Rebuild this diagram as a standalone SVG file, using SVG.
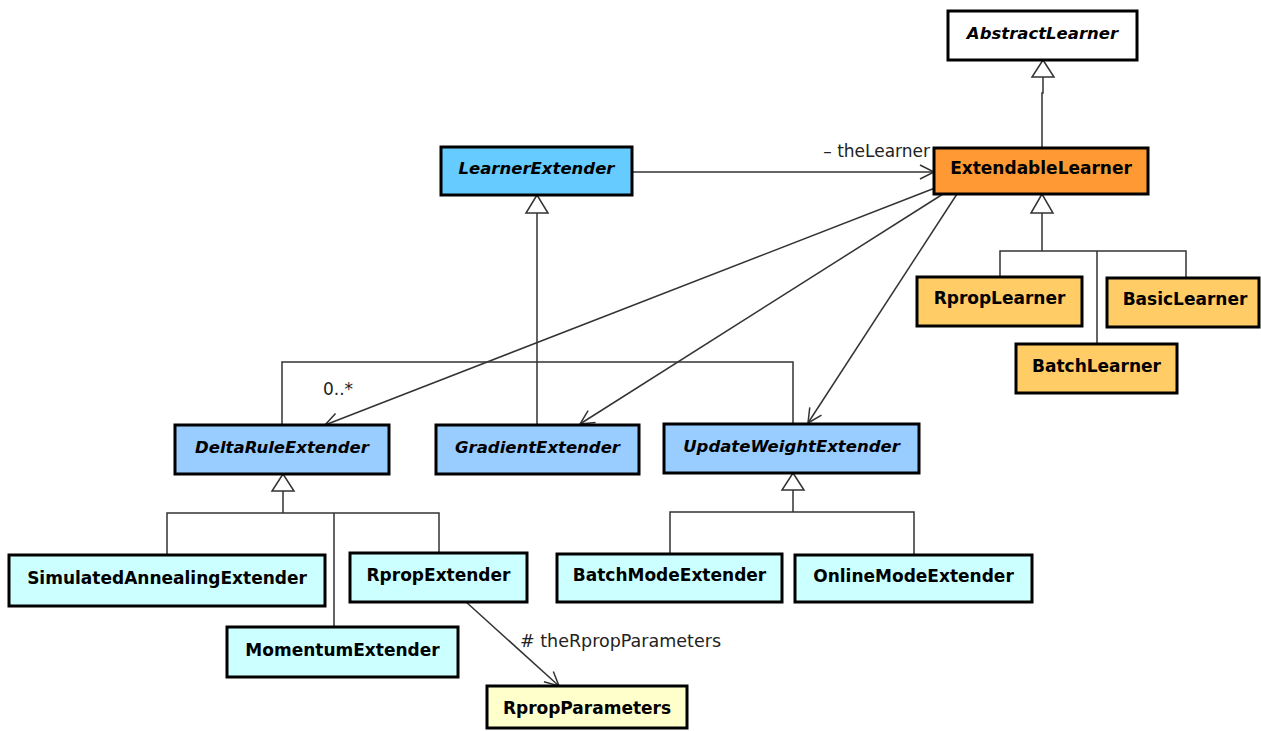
<svg xmlns="http://www.w3.org/2000/svg" width="1261" height="731" viewBox="0 0 1261 731">
<style>
.box{stroke:#000;stroke-width:3}
.t{font-family:"DejaVu Sans",sans-serif;font-size:17px;font-weight:bold;text-anchor:middle;fill:#000}
.ti{font-family:"DejaVu Sans",sans-serif;font-size:16.5px;font-weight:bold;font-style:italic;text-anchor:middle;fill:#000}
.lbl{font-family:"DejaVu Sans",sans-serif;font-size:17px;fill:#222}
.ln{fill:none;stroke:#333;stroke-width:1.5}
.tri{fill:#fff;stroke:#333;stroke-width:1.5}
.assoc{fill:none;stroke:#333;stroke-width:1.5;marker-end:url(#open)}
</style>
<defs>
<marker id="open" markerUnits="userSpaceOnUse" markerWidth="20" markerHeight="20" viewBox="-16 -10 18 20" refX="0" refY="0" orient="auto">
<path d="M-14,-7 L0,0 L-14,7" fill="none" stroke="#333" stroke-width="1.5"/>
</marker>
</defs>
<g id="connectors">
<path class="ln" d="M1043,77 V93 H1042 V148"/>
<polygon class="tri" points="1043,60 1032,77 1054,77"/>
<path class="ln" d="M1042,213 V251 M1000,277 V251 H1186 V278 M1097,251 V344"/>
<polygon class="tri" points="1042,194 1031,213 1053,213"/>
<path class="ln" d="M537,213 V425 M282,425 V362 H793 V424"/>
<polygon class="tri" points="537,195 526,213 548,213"/>
<path class="ln" d="M283,491 V513 M167,555 V513 H439 V553 M334,513 V627"/>
<polygon class="tri" points="283,474 272,491 294,491"/>
<path class="ln" d="M793,490 V512 M670,554 V512 H914 V555"/>
<polygon class="tri" points="793,473 782,490 804,490"/>
<path class="assoc" d="M632,172 L934,172"/>
<path class="assoc" d="M935,188 L325,425"/>
<path class="assoc" d="M943,194 L580,424"/>
<path class="assoc" d="M957,194 L808,423"/>
<path class="assoc" d="M465,601 L559,686"/>
<text class="lbl" x="930" y="157" text-anchor="end">– theLearner</text>
<text class="lbl" x="323" y="395">0..*</text>
<text class="lbl" x="520" y="647" style="font-size:17.5px">#  theRpropParameters</text>
</g>
<g id="AbstractLearner"><rect class="box" x="948" y="11" width="189" height="49" fill="#ffffff"/><text class="ti" x="1042.5" y="39">AbstractLearner</text></g>
<g id="ExtendableLearner"><rect class="box" x="934" y="148" width="214" height="46" fill="#ff9933"/><text class="t" x="1041" y="174">ExtendableLearner</text></g>
<g id="LearnerExtender"><rect class="box" x="441" y="147" width="191" height="48" fill="#66ccff"/><text class="ti" x="536.5" y="174">LearnerExtender</text></g>
<g id="RpropLearner"><rect class="box" x="917" y="277" width="165" height="49" fill="#ffcc66"/><text class="t" x="999.5" y="304">RpropLearner</text></g>
<g id="BasicLearner"><rect class="box" x="1107" y="278" width="152" height="49" fill="#ffcc66"/><text class="t" x="1185" y="305">BasicLearner</text></g>
<g id="BatchLearner"><rect class="box" x="1016" y="344" width="161" height="49" fill="#ffcc66"/><text class="t" x="1096.5" y="372">BatchLearner</text></g>
<g id="DeltaRuleExtender"><rect class="box" x="175" y="425" width="214" height="49" fill="#99ccff"/><text class="ti" x="282" y="453">DeltaRuleExtender</text></g>
<g id="GradientExtender"><rect class="box" x="436" y="425" width="203" height="49" fill="#99ccff"/><text class="ti" x="537.5" y="453">GradientExtender</text></g>
<g id="UpdateWeightExtender"><rect class="box" x="664" y="424" width="255" height="49" fill="#99ccff"/><text class="ti" x="791.5" y="452">UpdateWeightExtender</text></g>
<g id="SimulatedAnnealingExtender"><rect class="box" x="9" y="555" width="316" height="51" fill="#ccffff"/><text class="t" x="167" y="584">SimulatedAnnealingExtender</text></g>
<g id="RpropExtender"><rect class="box" x="350" y="553" width="177" height="49" fill="#ccffff"/><text class="t" x="438.5" y="581">RpropExtender</text></g>
<g id="MomentumExtender"><rect class="box" x="227" y="627" width="231" height="50" fill="#ccffff"/><text class="t" x="342.5" y="656">MomentumExtender</text></g>
<g id="BatchModeExtender"><rect class="box" x="557" y="554" width="225" height="48" fill="#ccffff"/><text class="t" x="669.5" y="581">BatchModeExtender</text></g>
<g id="OnlineModeExtender"><rect class="box" x="795" y="555" width="237" height="47" fill="#ccffff"/><text class="t" x="913.5" y="582">OnlineModeExtender</text></g>
<g id="RpropParameters"><rect class="box" x="487" y="686" width="200" height="42" fill="#ffffcc"/><text class="t" x="587" y="714">RpropParameters</text></g>
</svg>
